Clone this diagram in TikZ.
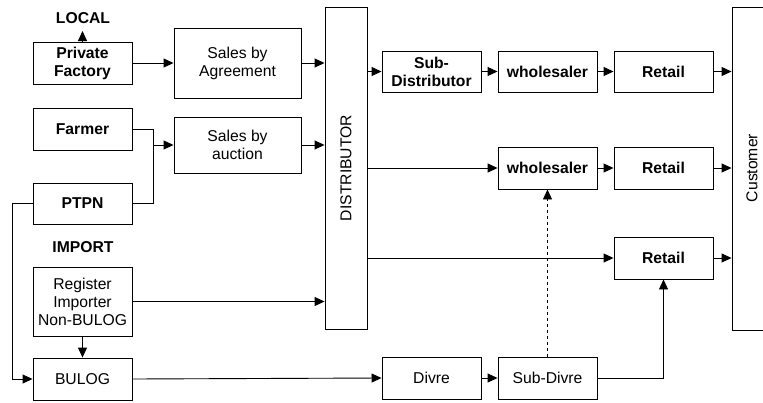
\documentclass[tikz,border=0pt]{standalone}
\usepackage{fontspec}
\setmainfont{Liberation Sans}
\usetikzlibrary{arrows.meta}
\begin{document}
\begin{tikzpicture}[x=1pt,y=-1pt,
  every node/.style={font=\fontsize{15.7}{18}\selectfont, align=center, inner sep=0pt},
  box/.style={draw, line width=0.9pt, minimum width=99pt, minimum height=42pt},
  bbox/.style={box, font=\fontsize{15.7}{18}\selectfont\bfseries},
  lbl/.style={font=\fontsize{15.7}{18}\selectfont\bfseries},
  arr/.style={line width=0.9pt, -{Triangle[length=10pt,width=9pt]}},
  ln/.style={line width=0.9pt}]
\useasboundingbox (0,0) rectangle (763,402);
% left column
\node[lbl] (local) at (83,18) {LOCAL};
\coordinate (lt) at (82.5,31);
\node[bbox] (pf) at (82.5,63) {Private\\Factory};
\node[bbox] (farmer) at (82.5,129) {Farmer};
\node[bbox, minimum height=41pt] (ptpn) at (82.5,203.5) {PTPN};
\node[lbl] (import) at (83,247) {IMPORT};
\node[box, minimum height=69pt] (reg) at (82.5,301.5) {Register\\Importer\\Non-BULOG};
\node[box] (bulog) at (82.5,379) {BULOG};
% sales
\node[box, minimum width=127pt, minimum height=70pt] (sba) at (237.5,63) {Sales by\\Agreement};
\node[box, minimum width=127pt, minimum height=56pt] (sbauc) at (237.5,145) {Sales by\\auction};
% distributor
\node[draw, line width=0.9pt, minimum width=42pt, minimum height=322pt] (dist) at (346,168) {};
\node[rotate=90] (distt) at (dist.center) {DISTRIBUTOR};
% right side
\node[bbox, minimum height=41pt] (subdist) at (431.5,71.5) {Sub-\\Distributor};
\node[bbox, minimum height=41pt] (wh1) at (547.5,71.5) {wholesaler};
\node[bbox, minimum height=41pt] (ret1) at (663.5,71.5) {Retail};
\node[bbox] (wh2) at (547.5,168) {wholesaler};
\node[bbox] (ret2) at (663.5,168) {Retail};
\node[bbox] (ret3) at (663.5,258) {Retail};
\node[box] (divre) at (431.5,378) {Divre};
\node[box] (subdivre) at (547.5,378) {Sub-Divre};
% customer
\node[draw, line width=0.9pt, minimum width=60pt, minimum height=323pt] (cust) at (762,168.5) {};
\node[rotate=90] (custt) at (752,168) {Customer};
% connectors
\draw[arr] (pf.north) -- (lt);
\draw[arr] (pf.east) -- (sba.west);
\draw[arr] (sba.east) -- (sba.east -| dist.west);
\coordinate (mx) at (153,0);
\draw[ln] (farmer.east) -| (mx |- ptpn.east) -- (ptpn.east);
\draw[arr] (mx |- sbauc.west) -- (sbauc.west);
\draw[arr] (sbauc.east) -- (sbauc.east -| dist.west);
\coordinate (lx) at (12,0);
\draw[arr] (ptpn.west) -- (lx |- ptpn.west) |- (bulog.west);
\draw[arr] (reg.east) -- (reg.east -| dist.west);
\draw[arr] (reg.south) -- (bulog.north);
\draw[arr] (bulog.east) -- (divre.west);
\draw[arr] (divre.east) -- (subdivre.west);
\draw[arr] (subdivre.east) -| (ret3.south);
\draw[arr, dashed] (subdivre.north) -- (wh2.south);
\draw[arr] (dist.east |- subdist.west) -- (subdist.west);
\draw[arr] (subdist.east) -- (wh1.west);
\draw[arr] (wh1.east) -- (ret1.west);
\draw[arr] (ret1.east) -- (ret1.east -| cust.west);
\draw[arr] (dist.east |- wh2.west) -- (wh2.west);
\draw[arr] (wh2.east) -- (ret2.west);
\draw[arr] (ret2.east) -- (ret2.east -| cust.west);
\draw[arr] (dist.east |- ret3.west) -- (ret3.west);
\draw[arr] (ret3.east) -- (ret3.east -| cust.west);
\end{tikzpicture}
\end{document}
